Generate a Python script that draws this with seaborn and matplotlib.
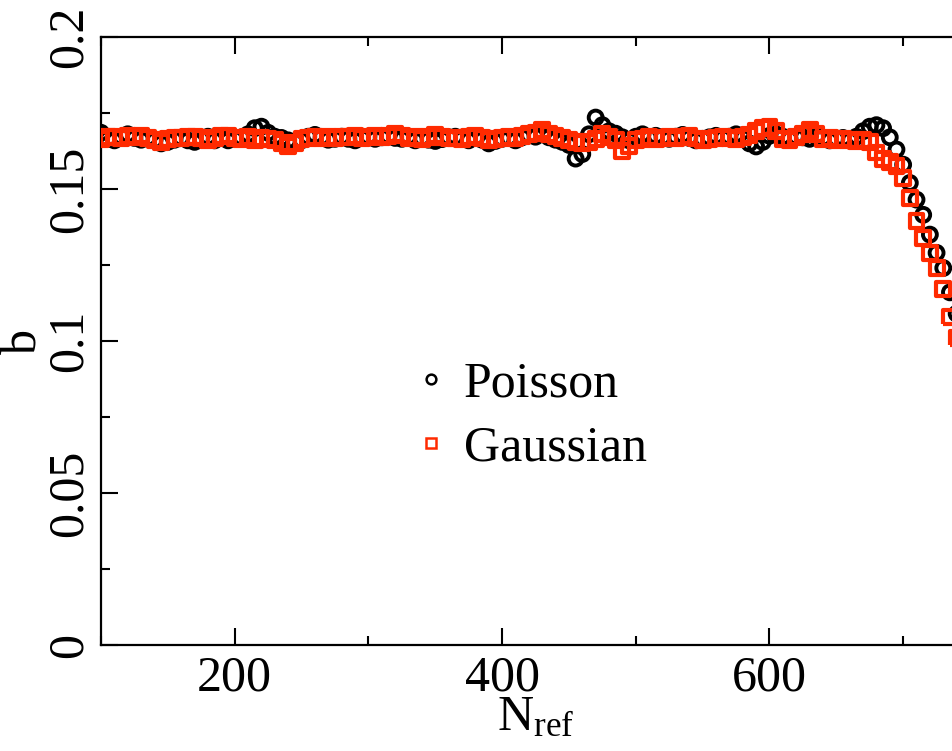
import numpy as np
import pandas as pd
import matplotlib
matplotlib.use("Agg")
import matplotlib.pyplot as plt
import seaborn as sns
from matplotlib.ticker import MultipleLocator, FuncFormatter
from matplotlib.lines import Line2D

# ---------------- data ----------------
n_ref = list(range(100, 755, 5))

poisson = [
    .1685, .1665, .1660, .1672, .1680, .1668, .1662, .1668, .1660, .1650,
    .1655, .1662, .1668, .1660, .1655, .1665, .1672, .1660, .1668, .1660,
    .1665, .1670, .1680, .1700, .1705, .1685, .1672, .1668, .1660, .1655,
    .1660, .1672, .1678, .1670, .1662, .1665, .1672, .1665, .1660, .1668,
    .1672, .1665, .1670, .1674, .1668, .1665, .1672, .1660, .1668, .1662,
    .1658, .1664, .1670, .1672, .1665, .1660, .1668, .1662, .1650, .1658,
    .1665, .1668, .1660, .1670, .1678, .1672, .1680, .1670, .1662, .1655,
    .1645, .1600, .1615, .1680, .1735, .1710, .1690, .1682, .1670, .1660,
    .1672, .1680, .1668, .1675, .1670, .1665, .1672, .1678, .1668, .1660,
    .1665, .1670, .1675, .1668, .1672, .1680, .1668, .1650, .1640, .1655,
    .1675, .1680, .1672, .1665, .1672, .1670, .1665, .1672, .1668, .1660,
    .1665, .1668, .1660, .1672, .1690, .1705, .1710, .1700, .1670, .1630,
    .1580, .1520, .1465, .1415, .1350, .1290, .1240, .1160, .1090, .1020,
    .0950,
]

gaussian = [
    .1665, .1670, .1672, .1668, .1675, .1670, .1676, .1668, .1660, .1655,
    .1665, .1668, .1667, .1670, .1672, .1668, .1660, .1668, .1674, .1676,
    .1668, .1665, .1670, .1662, .1667, .1664, .1660, .1650, .1640, .1652,
    .1665, .1668, .1670, .1666, .1670, .1668, .1672, .1670, .1675, .1668,
    .1672, .1676, .1670, .1673, .1680, .1676, .1668, .1672, .1664, .1670,
    .1678, .1672, .1666, .1668, .1664, .1670, .1674, .1668, .1660, .1665,
    .1668, .1670, .1668, .1675, .1680, .1685, .1695, .1682, .1675, .1668,
    .1660, .1655, .1650, .1655, .1665, .1680, .1672, .1660, .1625, .1640,
    .1660, .1665, .1670, .1664, .1668, .1672, .1666, .1670, .1673, .1666,
    .1660, .1665, .1668, .1672, .1668, .1665, .1672, .1678, .1690, .1700,
    .1705, .1690, .1665, .1660, .1670, .1682, .1695, .1680, .1665, .1668,
    .1662, .1665, .1660, .1658, .1662, .1655, .1620, .1600, .1590, .1575,
    .1535, .1470, .1395, .1340, .1290, .1240, .1170, .1080, .1010, .0950,
    .0890,
]

series_names = ["Poisson", "Gaussian"]
x_ticks = [200, 400, 600]
y_ticks = [0, 0.05, 0.1, 0.15, 0.2]

df = pd.DataFrame({"N": n_ref, "Poisson": poisson, "Gaussian": gaussian})

# ---------------- style ----------------
sns.set_theme(style="ticks")
plt.rcParams["font.family"] = ["Liberation Serif", "DejaVu Serif"]
plt.rcParams["mathtext.fontset"] = "custom"
plt.rcParams["mathtext.rm"] = "Liberation Serif"
plt.rcParams["mathtext.it"] = "Liberation Serif:italic"
plt.rcParams["text.color"] = "black"
plt.rcParams["axes.labelcolor"] = "black"

FS = 36
RED = "#ff2a00"
fig = plt.figure(figsize=(9.52, 7.51), dpi=100)
ax = fig.add_axes([101 / 952, 1 - 645 / 751, (970 - 101) / 952, (645 - 37) / 751])

sns.scatterplot(data=df, x="N", y="Poisson", ax=ax, marker="o", s=100,
                facecolors="none", edgecolors="black", linewidths=2.8,
                zorder=3, legend=False)
sns.scatterplot(data=df, x="N", y="Gaussian", ax=ax, marker="s", s=100,
                facecolors="none", edgecolors=RED, linewidths=3.0,
                zorder=4, legend=False)

ax.set_xlim(100, 750)
ax.set_ylim(0, 0.2)
ax.set_xticks(x_ticks)
ax.xaxis.set_minor_locator(MultipleLocator(100))
ax.set_yticks(y_ticks)
ax.yaxis.set_minor_locator(MultipleLocator(0.025))
ax.yaxis.set_major_formatter(FuncFormatter(lambda v, p: "%g" % round(v, 3)))

ax.tick_params(which="both", direction="in", top=True, right=True,
               width=1.5, labelsize=FS, colors="black")
ax.tick_params(which="major", length=12)
ax.tick_params(which="minor", length=6.5)
ax.tick_params(axis="x", pad=7)
ax.tick_params(axis="y", pad=6)
for lab in ax.get_yticklabels():
    lab.set_rotation(90)
    lab.set_va("center")
for sp in ax.spines.values():
    sp.set_linewidth(1.6)
    sp.set_color("black")

ax.set_xlabel(r"N$_{\mathregular{ref}}$", fontsize=FS, labelpad=-5)
ax.set_ylabel("b", fontsize=FS, labelpad=-1)

handles = [
    Line2D([], [], linestyle="none", marker="o", markersize=7,
           markerfacecolor="none", markeredgecolor="black", markeredgewidth=1.8),
    Line2D([], [], linestyle="none", marker="s", markersize=7,
           markerfacecolor="none", markeredgecolor=RED, markeredgewidth=1.8),
]
ax.legend(handles, series_names, loc="upper left", frameon=False,
          fontsize=FS, handlelength=0.6, handletextpad=0.35, labelspacing=0.35,
          bbox_to_anchor=(416 / 952, 1 - 361 / 751), bbox_transform=fig.transFigure,
          borderaxespad=0, borderpad=0)

fig.savefig("out.png", dpi=100)
